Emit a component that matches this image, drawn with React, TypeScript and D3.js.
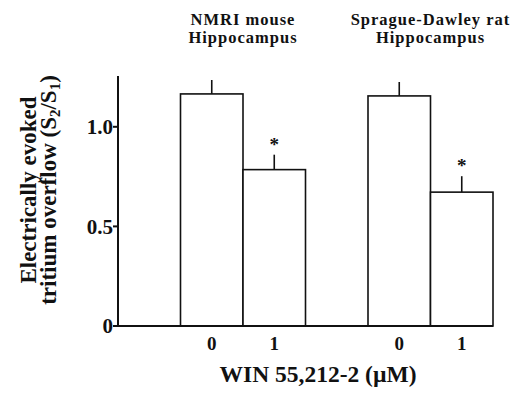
import * as d3 from 'd3';
import { ReactElement } from 'react';

// ─ Data ─────────────────────────────────────────────────────────────────────
const slots = ['pad', 'mouse-0', 'mouse-1', 'gap', 'rat-0', 'rat-1'];
const barKeys = ['mouse-0', 'mouse-1', 'rat-0', 'rat-1'];
const doseLabels = ['0', '1', '0', '1'];
const means = [1.165, 0.785, 1.155, 0.672];
const sems = [0.07, 0.075, 0.07, 0.08];
const significant = [false, true, false, true];
const groupTitles = [
  { lines: ['NMRI mouse', 'Hippocampus'], keys: ['mouse-0', 'mouse-1'] },
  { lines: ['Sprague-Dawley rat', 'Hippocampus'], keys: ['rat-0', 'rat-1'] },
];
const yTicks = [0, 0.5, 1.0];
const yTickLabels = ['0', '0.5', '1.0'];

const W = 522;
const H = 397;
const FONT = '"Liberation Serif", "Times New Roman", serif';

const App = (): ReactElement => {
  const x = d3.scaleBand<string>().domain(slots).range([118, 493]).padding(0);
  const y = d3.scaleLinear().domain([0, 1.255]).range([326, 76]);
  const bw = x.bandwidth();
  const [x0, x1] = x.range();

  return (
    <svg
      width={W}
      height={H}
      style={{ position: 'absolute', left: 0, top: 0, background: '#fff' }}
      fontFamily={FONT}
      fontWeight="bold"
    >
      {/* group titles */}
      {groupTitles.map((g, i) => {
        const cx = ((x(g.keys[0]) || 0) + (x(g.keys[1]) || 0) + bw) / 2;
        return (
          <text key={i} x={cx} textAnchor="middle" fontSize={16.5} letterSpacing={1} fill="#111">
            {g.lines.map((ln, j) => (
              <tspan key={j} x={cx} y={25 + j * 18}>{ln}</tspan>
            ))}
          </text>
        );
      })}

      {/* bars */}
      {barKeys.map((k, i) => {
        const bx = x(k) || 0;
        const cx = bx + bw / 2;
        const top = y(means[i]);
        const errTop = y(means[i] + sems[i]);
        return (
          <g key={k}>
            <line x1={cx} x2={cx} y1={top} y2={errTop} stroke="#111" strokeWidth={1.6} />
            <rect x={bx} y={top} width={bw} height={y(0) - top} fill="#fff" stroke="#111" strokeWidth={1.6} />
            {significant[i] && (
              <text x={cx} y={errTop - 4} textAnchor="middle" fontSize={19} fill="#111">*</text>
            )}
            <text x={cx} y={350} textAnchor="middle" fontSize={19} fill="#111">{doseLabels[i]}</text>
          </g>
        );
      })}

      {/* axes */}
      <line x1={x0} x2={x0} y1={y.range()[1]} y2={y(0)} stroke="#111" strokeWidth={2} />
      <line x1={x0 - 5} x2={x1} y1={y(0)} y2={y(0)} stroke="#111" strokeWidth={2} />
      {yTicks.map((t, i) => (
        <g key={t}>
          <line x1={x0 - 5} x2={x0} y1={y(t)} y2={y(t)} stroke="#111" strokeWidth={2} />
          <text x={x0 - 5} y={y(t)} dy="0.35em" textAnchor="end" fontSize={21} fill="#111">{yTickLabels[i]}</text>
        </g>
      ))}

      {/* axis titles */}
      <text x={318} y={382} textAnchor="middle" fontSize={23.5} fill="#111">WIN 55,212-2 (µM)</text>
      <g transform="translate(0,190) rotate(-90)">
        <text x={0} y={36} textAnchor="middle" fontSize={23} fill="#111">Electrically evoked</text>
        <text x={0} y={56} textAnchor="middle" fontSize={23} fill="#111">
          tritium overflow (S<tspan fontSize={15} dy={4}>2</tspan>
          <tspan dy={-4}>/S</tspan><tspan fontSize={15} dy={4}>1</tspan><tspan dy={-4}>)</tspan>
        </text>
      </g>
    </svg>
  );
};

export default App;
